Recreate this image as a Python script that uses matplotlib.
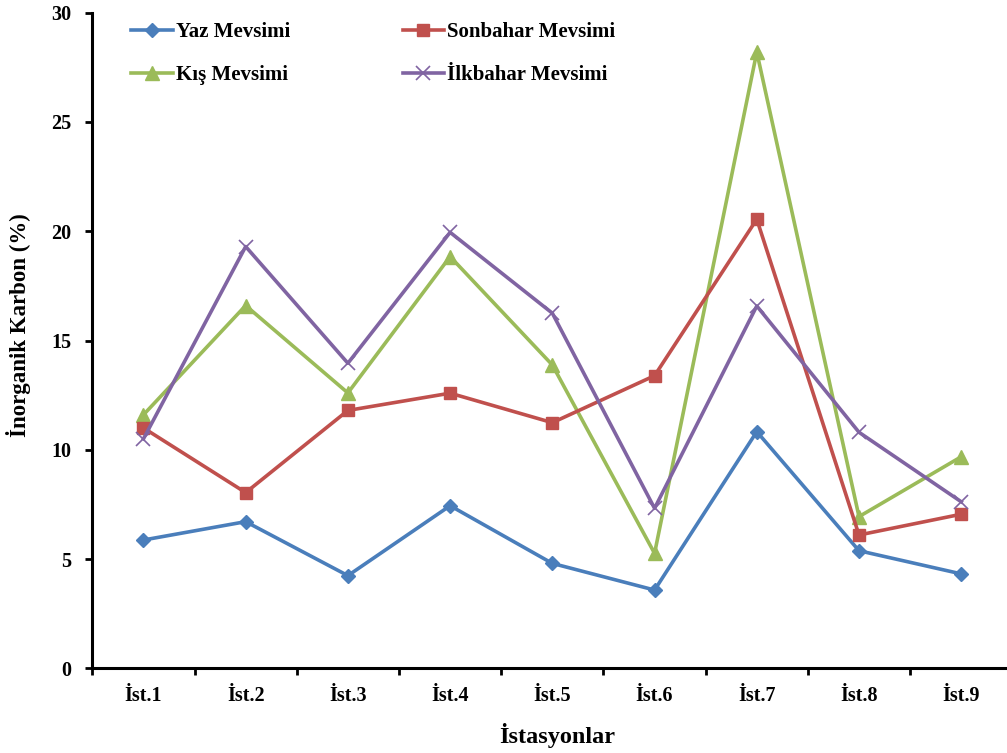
import matplotlib
matplotlib.use("Agg")
import matplotlib.pyplot as plt
import numpy as np

# istasyon adlari
stations = ["İst.1", "İst.2", "İst.3", "İst.4", "İst.5", "İst.6", "İst.7", "İst.8", "İst.9"]

# mevsimlere gore inorganik karbon (%)
yaz = [5.87, 6.71, 4.24, 7.44, 4.80, 3.58, 10.83, 5.38, 4.32]
sonbahar = [11.0, 8.04, 11.8, 12.59, 11.24, 13.39, 20.55, 6.10, 7.05]
kis = [11.6, 16.6, 12.6, 18.84, 13.88, 5.26, 28.2, 6.94, 9.68]
ilkbahar = [10.5, 19.3, 13.96, 19.95, 16.25, 7.32, 16.58, 10.8, 7.62]

plt.rcParams['font.family'] = ['Liberation Serif', 'DejaVu Serif']
plt.rcParams['font.weight'] = 'bold'

fig = plt.figure(figsize=(10.07, 7.53), dpi=100)
ax = fig.add_axes([0.0917, 0.1125, 0.9136, 0.8706])

x = np.arange(1, len(stations) + 1)

ax.plot(x, yaz, color="#4A7EBB", lw=2.6, marker="D", ms=7.5, label="Yaz Mevsimi")
ax.plot(x, kis, color="#9BBB59", lw=2.6, marker="^", ms=10, label="Kış Mevsimi")
ax.plot(x, sonbahar, color="#C0504D", lw=2.6, marker="s", ms=9, label="Sonbahar Mevsimi")
ax.plot(x, ilkbahar, color="#8064A2", lw=2.6, marker="x", ms=10, mew=1.2, label="İlkbahar Mevsimi")

ax.set_xlim(0.5, len(stations) + 0.5)
ax.set_ylim(0, 30)
ax.set_yticks([0, 5, 10, 15, 20, 25, 30])

# kategori sinirlarinda tick, etiketler ortada
ax.set_xticks(np.arange(0.5, len(stations) + 1, 1))
ax.set_xticklabels([])
ax.set_xticks(x, minor=True)
ax.set_xticklabels(stations, minor=True)
ax.tick_params(axis='x', which='major', direction='out', length=5, width=2)
ax.tick_params(axis='x', which='minor', length=0, pad=13, labelsize=14.5)
ax.tick_params(axis='y', direction='out', length=5, width=2, pad=10, labelsize=14.5)

for s in ['top', 'right']:
    ax.spines[s].set_visible(False)
for s in ['left', 'bottom']:
    ax.spines[s].set_linewidth(2.2)

fig.text(557 / 1007, 1 - 743 / 753, "İstasyonlar", ha='center', va='baseline',
         fontsize=17.5, fontweight='bold')
fig.text(18.5 / 1007, 1 - 325.5 / 753, "İnorganik Karbon (%)", ha='center', va='center',
         rotation=90, fontsize=16.5, fontweight='bold')

leg = fig.legend(loc='upper left', bbox_to_anchor=(131 / 1007, 1 - 22 / 753), ncol=2,
                 frameon=False, fontsize=15, handlelength=2.0, handletextpad=0.15,
                 columnspacing=5.4, labelspacing=1.1, borderpad=0, borderaxespad=0)

fig.savefig("out.png", dpi=100)
